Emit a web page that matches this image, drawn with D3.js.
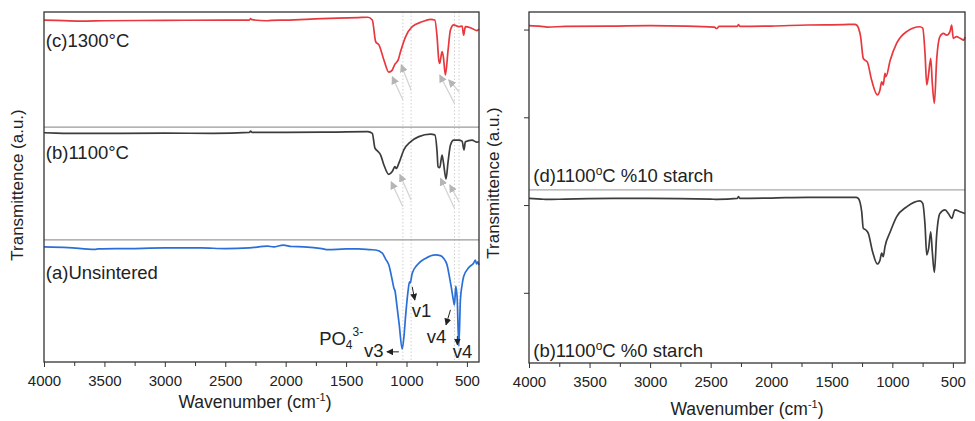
<!DOCTYPE html>
<html><head><meta charset="utf-8">
<script src="https://cdn.jsdelivr.net/npm/d3@7"></script>
<style>body{margin:0;background:#fff}text{font-family:"Liberation Sans",Arial,sans-serif;fill:#222}</style></head>
<body><svg id="c" width="975" height="421"></svg>
<script>
// ---------- data ----------
const xMajorTicks = [4000,3500,3000,2500,2000,1500,1000,500];
const xMinorTicks = [3750,3250,2750,2250,1750,1250,750];
const rightYTicks = [20,45,70,95];
const markerLines = [1030,962,603,565];

// left panel: (c) 1300°C
const specC = [[4000,97.7],[3900,97.6],[3700,97.4],[3500,97.5],[3000,97.6],[2500,97.7],[2300,97.7],[2290,98.1],[2280,97.8],[2160,97.5],[2120,97.6],[2000,97.7],[1700,98.1],[1400,98.4],[1320,98.5],[1283,97.7],[1255,91.5],[1228,90.6],[1187,86.3],[1146,82.8],[1118,83.4],[1096,85.1],[1085,85.5],[1069,86.3],[1049,88.7],[1008,92.9],[953,95.8],[871,97.2],[801,97.9],[766,97.7],[747,92.9],[733,86.3],[725,85.3],[706,88.7],[695,87.2],[678,82.0],[656,89.1],[636,94.9],[609,96.3],[568,95.8],[540,96.0],[527,93.4],[513,95.8],[458,95.3],[417,94.7],[400,95.1]];
// left panel: (b) 1100°C
const specB = [[4000,65.5],[3900,65.4],[3700,65.3],[3000,65.4],[2600,65.3],[2300,65.6],[2290,66.0],[2280,65.6],[2000,65.6],[1600,65.7],[1320,65.8],[1283,65.3],[1261,61.1],[1234,60.1],[1214,59.1],[1187,56.3],[1146,53.6],[1118,54.4],[1096,55.8],[1085,55.3],[1063,56.8],[1022,60.6],[967,62.9],[898,64.4],[801,65.1],[766,64.9],[747,60.1],[739,55.8],[725,55.5],[706,59.1],[695,57.2],[673,52.3],[656,57.2],[636,62.0],[609,63.4],[568,63.4],[540,63.1],[524,60.6],[513,62.9],[458,63.4],[417,62.8],[400,63.0]];
// left panel: (a) Unsintered
const specA = [[4000,32.9],[3800,32.7],[3580,32.2],[3550,32.3],[3300,32.4],[3000,32.6],[2700,32.6],[2500,32.4],[2300,32.6],[2150,33.1],[2100,32.9],[2020,33.4],[1950,33.0],[1850,32.9],[1700,32.4],[1650,32.1],[1500,32.3],[1400,32.3],[1300,32.1],[1255,32.0],[1200,31.1],[1173,29.4],[1146,27.7],[1118,23.4],[1104,21.1],[1095,20.3],[1080,16.3],[1060,10.6],[1036,3.7],[1020,7.7],[1008,12.9],[986,20.6],[975,22.9],[968,22.6],[960,24.0],[953,25.3],[912,27.7],[843,29.6],[760,30.6],[720,30.4],[692,29.6],[664,27.7],[645,24.4],[628,21.1],[612,17.7],[603,16.3],[592,21.7],[580,17.7],[567,4.6],[554,17.7],[540,22.0],[527,24.4],[486,26.9],[444,28.3],[430,29.1],[420,28.0],[410,28.6],[400,27.7]];
// right panel: (d) 1100°C %10 starch
const specD = [[4000,96.1],[3900,95.9],[3850,95.7],[3700,95.9],[3300,96.0],[3000,96.1],[2700,96.0],[2470,95.7],[2450,95.3],[2430,95.9],[2280,95.9],[2270,96.4],[2260,95.9],[2000,96.0],[1700,96.3],[1400,96.4],[1309,96.5],[1295,96.3],[1262,93.0],[1240,86.8],[1226,86.3],[1207,85.8],[1171,80.6],[1124,76.4],[1102,77.8],[1088,80.1],[1075,79.2],[1061,82.5],[1053,81.6],[1017,86.3],[964,91.1],[882,94.4],[772,95.8],[749,95.4],[730,88.2],[716,79.2],[703,81.6],[683,86.8],[670,79.7],[653,74.0],[634,86.3],[607,93.0],[579,93.9],[551,93.4],[524,94.4],[510,96.3],[497,92.5],[470,93.0],[440,92.5],[410,92.0],[400,92.9]];
// right panel: (b) 1100°C %0 starch
const specB0 = [[4000,46.9],[3900,46.7],[3850,46.6],[3700,46.7],[3300,46.9],[3000,46.9],[2500,46.7],[2450,46.6],[2280,46.9],[2270,47.4],[2260,46.9],[2000,47.0],[1700,47.2],[1300,47.2],[1281,46.9],[1253,43.1],[1240,38.4],[1218,37.9],[1199,37.0],[1163,31.7],[1124,28.2],[1102,29.3],[1088,31.3],[1075,30.3],[1061,33.1],[1017,37.4],[964,41.7],[882,44.5],[772,46.2],[749,45.5],[730,39.3],[716,30.8],[700,32.7],[683,37.4],[670,31.7],[653,25.8],[634,36.5],[607,42.6],[565,43.6],[537,42.6],[510,41.2],[483,43.6],[440,43.1],[400,42.6]];

const leftSeparators = [67.1, 34.9];
const rightSeparators = [49.3];

// ---------- drawing ----------
const svg = d3.select("#c");
const FONT = '"Liberation Sans",Arial,sans-serif';
const defs = svg.append("defs");
function marker(id, color, size){
  defs.append("marker").attr("id",id).attr("viewBox","0 0 10 10").attr("refX",9).attr("refY",5)
    .attr("markerWidth",size).attr("markerHeight",size).attr("orient","auto").attr("markerUnits","userSpaceOnUse")
    .append("path").attr("d","M0,0 L10,5 L0,10 z").attr("fill",color);
}
marker("ab","#222",7);
marker("ag","#b5b5b5",8);

function panel(L, R, T, B){
  const x = d3.scaleLinear().domain([4000,400]).range([L,R]);
  const y = d3.scaleLinear().domain([0,100]).range([B,T]);
  return {x,y,L,R,T,B};
}
const P1 = panel(44,479,12,362);
const P2 = panel(529,965,12,363);

function axes(p){
  const g = svg.append("g");
  g.append("g").attr("transform",`translate(0,${p.B})`)
   .call(d3.axisBottom(p.x).tickValues(xMinorTicks).tickSize(4).tickFormat(""))
   .call(s=>s.select(".domain").remove()).selectAll("line").attr("stroke","#333");
  const ax = g.append("g").attr("transform",`translate(0,${p.B})`)
   .call(d3.axisBottom(p.x).tickValues(xMajorTicks).tickSize(5).tickPadding(8).tickFormat(d3.format("d")));
  ax.select(".domain").remove();
  ax.selectAll("line").attr("stroke","#333");
  ax.selectAll("text").attr("font-size",15).attr("font-family",FONT).attr("fill","#222");
  return g;
}
function frame(p){
  svg.append("rect").attr("x",p.L).attr("y",p.T).attr("width",p.R-p.L).attr("height",p.B-p.T)
    .attr("fill","none").attr("stroke","#333").attr("stroke-width",1.3);
}
function curve(p, data, color){
  const line = d3.line().x(d=>p.x(d[0])).y(d=>p.y(d[1])).curve(d3.curveMonotoneX);
  svg.append("path").datum(data).attr("d",line).attr("fill","none").attr("stroke",color)
    .attr("stroke-width",1.7).attr("stroke-linejoin","round");
}
function sep(p, v, color){
  svg.append("line").attr("x1",p.L).attr("x2",p.R).attr("y1",p.y(v)).attr("y2",p.y(v))
    .attr("stroke",color).attr("stroke-width",1.2);
}
function xTitle(cx, yb){
  const t = svg.append("text").attr("x",cx).attr("y",yb).attr("text-anchor","middle").attr("font-size",17.5);
  t.append("tspan").text("Wavenumber (cm");
  t.append("tspan").attr("dy",-7).attr("font-size",11).text("-1");
  t.append("tspan").attr("dy",7).text(")");
}
function yTitle(cx, cy){
  svg.append("text").attr("transform",`translate(${cx},${cy}) rotate(-90)`).attr("text-anchor","middle")
    .attr("font-size",17).text("Transmittence (a.u.)");
}

// Left panel
markerLines.forEach(w=>{
  svg.append("line").attr("x1",P1.x(w)).attr("x2",P1.x(w)).attr("y1",P1.T).attr("y2",P1.B)
    .attr("stroke","#cfcfcf").attr("stroke-width",1).attr("stroke-dasharray","1.5,2");
});
leftSeparators.forEach(v=>sep(P1,v,"#9a9a9a"));
curve(P1, specC, "#e8383d");
curve(P1, specB, "#3c3c3c");
curve(P1, specA, "#2a6fd8");

// gray arrows (tail wn, tail v, head wn, head v)
const grayArrows = [
  [1030,74.9,1118,81.5],[962,77.7,1044,84.9],[603,73.9,725,82.0],[565,77.2,651,80.6],
  [1030,44.4,1127,51.5],[962,46.3,1055,53.6],[603,43.9,719,52.5],[565,45.8,642,50.6]
];
grayArrows.forEach(a=>{
  svg.append("line").attr("x1",P1.x(a[0])).attr("y1",P1.y(a[1])).attr("x2",P1.x(a[2])).attr("y2",P1.y(a[3]))
    .attr("stroke","#d4d4d4").attr("stroke-width",1.3).attr("marker-end","url(#ag)");
});
const blackArrows = [[1063,2.9,1162,2.9],[953,21.5,931,17.7],[636,14.9,673,10.6],[579,7.4,579,4.9]];
blackArrows.forEach(a=>{
  svg.append("line").attr("x1",P1.x(a[0])).attr("y1",P1.y(a[1])).attr("x2",P1.x(a[2])).attr("y2",P1.y(a[3]))
    .attr("stroke","#222").attr("stroke-width",1).attr("marker-end","url(#ab)");
});
function lbl(p, wn, v, txt, size){
  return svg.append("text").attr("x",p.x(wn)).attr("y",p.y(v)).attr("font-size",size||18.5).text(txt);
}
lbl(P1,1352,1.5,"v3");
lbl(P1,956,12.9,"v1");
lbl(P1,832,5.4,"v4");
lbl(P1,618,1.1,"v4");
const po = svg.append("text").attr("x",P1.x(1723)).attr("y",P1.y(4.9)).attr("font-size",18.5);
po.append("tspan").text("PO");
po.append("tspan").attr("dy",4).attr("font-size",12).text("4");
po.append("tspan").attr("dy",-13).attr("font-size",12).text("3-");

lbl(P1,3985,90.1,"(c)1300°C");
lbl(P1,3985,58.0,"(b)1100°C");
lbl(P1,3985,23.7,"(a)Unsintered");
frame(P1);
axes(P1);
xTitle(255,408);
yTitle(23,185);

// Right panel
sep(P2,rightSeparators[0],"#a8a8a8");
curve(P2, specD, "#e8383d");
curve(P2, specB0, "#3c3c3c");
function degLabel(p, wn, v, pre, post){
  const t = svg.append("text").attr("x",p.x(wn)).attr("y",p.y(v)).attr("font-size",18.5);
  t.append("tspan").text(pre);
  t.append("tspan").attr("dy",-7).attr("font-size",12).text("o");
  t.append("tspan").attr("dy",7).text(post);
}
degLabel(P2,3965,51.7,"(d)1100","C %10 starch");
degLabel(P2,3965,1.8,"(b)1100","C %0 starch");
frame(P2);
axes(P2);
const ya = svg.append("g").attr("transform",`translate(${P2.L},0)`)
  .call(d3.axisLeft(P2.y).tickValues(rightYTicks).tickSize(5).tickFormat(""));
ya.select(".domain").remove();
ya.selectAll("line").attr("stroke","#333");
xTitle(747,415);
yTitle(499,183);
</script></body></html>
